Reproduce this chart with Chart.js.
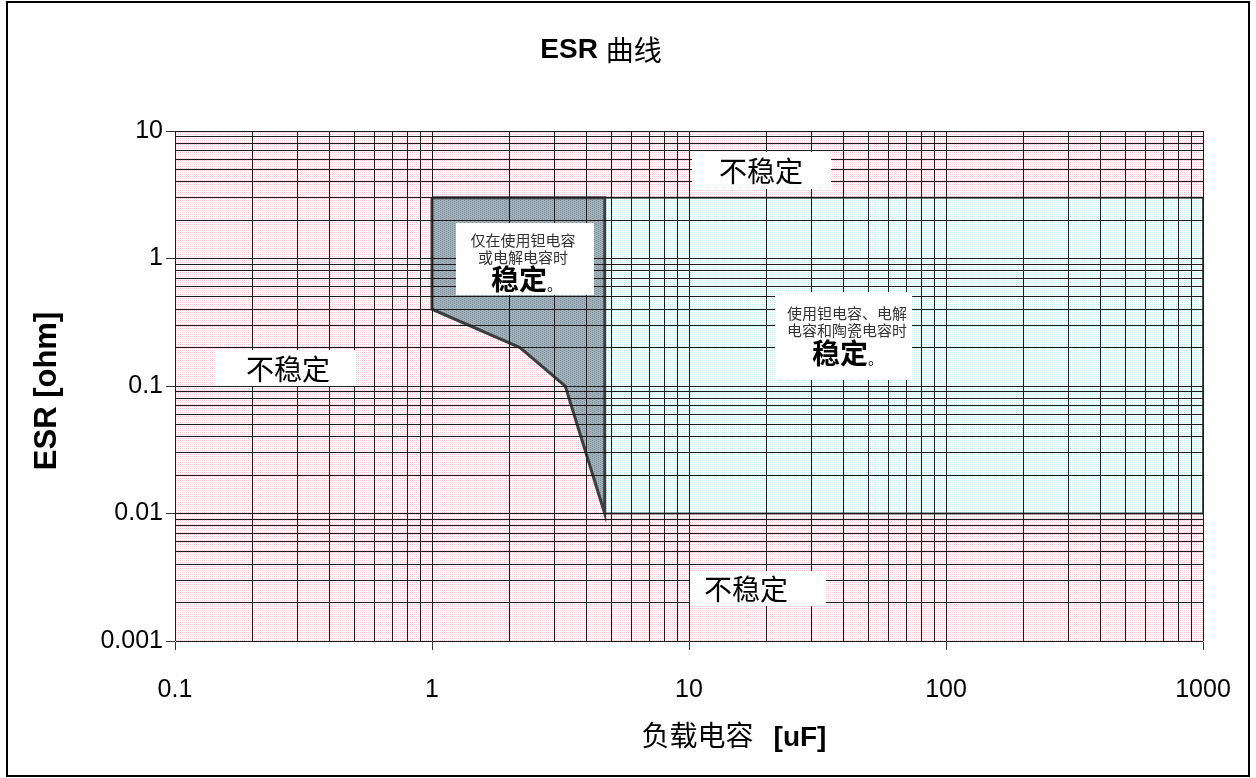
<!DOCTYPE html>
<html>
<head>
<meta charset="utf-8">
<script src="https://cdn.jsdelivr.net/npm/chart.js@4.4.1/dist/chart.umd.min.js"></script>
<style>
  html, body { margin: 0; padding: 0; background: #fff; }
  canvas { display: block; }
</style>
</head>
<body>
<canvas id="esr" width="1256" height="778"></canvas>
<script>
// Axis decades
const xTickLabels = ['0.1', '1', '10', '100', '1000'];
const yTickLabels = ['0.001', '0.01', '0.1', '1', '10'];

// Region stable only with tantalum / electrolytic capacitors (closed outline)
const tantalumCap = [1, 4.7, 4.7, 3.3, 2.2, 1, 1];
const tantalumEsr = [3, 3, 0.01, 0.1, 0.2, 0.4, 3];

// Region stable with tantalum, electrolytic and ceramic capacitors (closed outline)
const allCap = [4.7, 1000, 1000, 4.7, 4.7];
const allEsr = [3, 3, 0.01, 0.01, 3];

// Texts
const titleLatin = 'ESR';
const titleCjk = '曲线';
const xTitleCjk = '负载电容';
const xTitleUnit = '[uF]';
const yTitle = 'ESR [ohm]';
const unstableText = '不稳定';
const tantalumNote = ['仅在使用钽电容', '或电解电容时'];
const allNote = ['使用钽电容、电解', '电容和陶瓷电容时'];
const stableText = '稳定';
const stop = '。';

const LATIN = "'Liberation Sans', Arial, 'Noto Sans CJK SC', sans-serif";
const CJK = "'Noto Sans CJK SC', 'Liberation Sans', sans-serif";

// Log grid: every integer multiple inside each decade
function decadeGrid(labels) {
  const majors = labels.map(Number);
  const out = [];
  for (let i = 0; i < majors.length; i++) {
    out.push({ value: majors[i], major: true });
    if (i < majors.length - 1) {
      for (let m = 2; m <= 9; m++) {
        out.push({ value: Number((m * majors[i]).toPrecision(6)), major: false });
      }
    }
  }
  return out;
}

const ctx = document.getElementById('esr').getContext('2d');

function tilePattern(bg, dot, cells) {
  const t = document.createElement('canvas');
  t.width = 4; t.height = 4;
  const g = t.getContext('2d');
  g.fillStyle = bg; g.fillRect(0, 0, 4, 4);
  g.fillStyle = dot;
  cells.forEach(([x, y]) => g.fillRect(x, y, 1, 1));
  return ctx.createPattern(t, 'repeat');
}
const dotCells = [[0, 0], [2, 0], [0, 2], [2, 2]];
const pinkFill = tilePattern('#ffffff', '#f8cdd3', dotCells);
const cyanFill = tilePattern('#ffffff', '#c9eeee', dotCells);
const slateFill = tilePattern('#a3b2ba', '#7d8d97', [[0, 0], [2, 1], [0, 2], [2, 3]]);

const toPoints = (xs, ys) => xs.map((x, i) => ({ x, y: ys[i] }));

// Text boxes placed in data coordinates; text offsets are in pixels from the box's top-left
const notes = [
  { box: [10.27, 35.7, 6.84, 3.51], lines: [{ text: unstableText, font: '28px ' + CJK, color: '#000', dx: 69, dy: 19 }] },
  { box: [0.1443, 0.506, 0.1916, 0.1], lines: [{ text: unstableText, font: '28px ' + CJK, color: '#000', dx: 72, dy: 19 }] },
  { box: [10.09, 34.1, 0.00354, 0.00188], lines: [{ text: unstableText, font: '28px ' + CJK, color: '#000', dx: 56, dy: 18 }] },
  { box: [1.24, 4.27, 1.898, 0.517], lines: [
      { text: tantalumNote[0], font: '15px ' + CJK, color: '#333', dx: 67, dy: 17 },
      { text: tantalumNote[1], font: '15px ' + CJK, color: '#333', dx: 67, dy: 34 },
      { text: stableText, font: 'bold 28px ' + CJK, color: '#000', dx: 63, dy: 56, tail: stop }
  ] },
  { box: [21.6, 73.8, 0.546, 0.1114], lines: [
      { text: allNote[0], font: '15px ' + CJK, color: '#333', dx: 72, dy: 21 },
      { text: allNote[1], font: '15px ' + CJK, color: '#333', dx: 72, dy: 38 },
      { text: stableText, font: 'bold 28px ' + CJK, color: '#000', dx: 65, dy: 61, tail: stop }
  ] }
];

const decor = {
  id: 'decor',
  beforeDraw(chart) {
    const { ctx: c, chartArea: a } = chart;
    c.save();
    c.fillStyle = '#ffffff';
    c.fillRect(0, 0, chart.width, chart.height);
    c.fillStyle = pinkFill;
    c.fillRect(a.left, a.top, a.right - a.left, a.bottom - a.top);
    c.restore();
  },
  afterDraw(chart) {
    const c = chart.ctx;
    const xs = chart.scales.x, ys = chart.scales.y;
    c.save();
    // annotation boxes
    notes.forEach(n => {
      const x0 = xs.getPixelForValue(n.box[0]), x1 = xs.getPixelForValue(n.box[1]);
      const y0 = ys.getPixelForValue(n.box[2]), y1 = ys.getPixelForValue(n.box[3]);
      c.fillStyle = '#ffffff';
      c.fillRect(x0, y0, x1 - x0, y1 - y0);
      n.lines.forEach(l => {
        c.font = l.font;
        c.fillStyle = l.color;
        c.textAlign = 'center';
        c.textBaseline = 'middle';
        c.fillText(l.text, x0 + l.dx, y0 + l.dy);
        if (l.tail) {
          const w = c.measureText(l.text).width;
          c.font = '15px ' + CJK;
          c.textAlign = 'left';
          c.fillText(l.tail, x0 + l.dx + w / 2, y0 + l.dy + 5);
        }
      });
    });

    // chart title
    c.textBaseline = 'middle';
    c.textAlign = 'left';
    c.fillStyle = '#000';
    c.font = 'bold 28px ' + LATIN;
    const wA = c.measureText(titleLatin + ' ').width;
    c.font = '28px ' + CJK;
    const wB = c.measureText(titleCjk).width;
    const tx = 601 - (wA + wB) / 2;
    c.font = 'bold 28px ' + LATIN;
    c.fillText(titleLatin, tx, 50);
    c.font = '28px ' + CJK;
    c.fillText(titleCjk, tx + wA, 50);

    // x axis title
    c.font = '28px ' + CJK;
    const w1 = c.measureText(xTitleCjk).width;
    c.font = 'bold 28px ' + LATIN;
    const w2 = c.measureText(xTitleUnit).width;
    const gap = 20;
    const sx = 734 - (w1 + gap + w2) / 2;
    c.font = '28px ' + CJK;
    c.fillText(xTitleCjk, sx, 735);
    c.font = 'bold 28px ' + LATIN;
    c.fillText(xTitleUnit, sx + w1 + gap, 738);

    // y axis title
    c.translate(47, 391);
    c.rotate(-Math.PI / 2);
    c.textAlign = 'center';
    c.font = 'bold 31px ' + LATIN;
    c.fillText(yTitle, 0, 0);
    c.restore();

    // outer frame
    c.save();
    c.fillStyle = '#ffffff';
    c.fillRect(0, 0, 6, chart.height);
    c.fillRect(0, 0, chart.width, 1);
    c.strokeStyle = '#000';
    c.lineWidth = 2;
    c.strokeRect(7, 2, 1242, 774);
    c.restore();
  }
};

const gridStyle = {
  z: 1,
  color: '#1c1c1c',
  lineWidth: 1,
  drawTicks: true,
  tickLength: 9,
  tickColor: (c) => (c.tick && c.tick.major ? '#333' : 'rgba(0,0,0,0)')
};

new Chart(ctx, {
  type: 'scatter',
  data: {
    datasets: [
      {
        label: 'tantalum',
        data: toPoints(tantalumCap, tantalumEsr),
        showLine: true,
        fill: 'shape',
        backgroundColor: slateFill,
        borderColor: '#3a3e41',
        borderWidth: 3,
        pointRadius: 0,
        tension: 0
      },
      {
        label: 'all',
        data: toPoints(allCap, allEsr),
        showLine: true,
        fill: 'shape',
        backgroundColor: cyanFill,
        borderColor: '#4a4f52',
        borderWidth: 2,
        pointRadius: 0,
        tension: 0
      }
    ]
  },
  plugins: [decor],
  options: {
    responsive: false,
    animation: false,
    devicePixelRatio: 1,
    layout: { padding: { top: 131, right: 53, bottom: 0, left: 0 } },
    plugins: { legend: { display: false }, tooltip: { enabled: false }, title: { display: false } },
    scales: {
      x: {
        type: 'logarithmic',
        min: 0.1,
        max: 1000,
        afterBuildTicks: (s) => { s.ticks = decadeGrid(xTickLabels); },
        afterFit: (s) => { s.height = 137; },
        grid: gridStyle,
        border: { display: true, color: '#555', width: 1 },
        ticks: {
          autoSkip: false,
          maxRotation: 0,
          padding: 25,
          color: '#000',
          font: { family: LATIN, size: 25 },
          callback: (v) => (xTickLabels.includes(String(v)) ? String(v) : '')
        }
      },
      y: {
        type: 'logarithmic',
        min: 0.001,
        max: 10,
        afterBuildTicks: (s) => { s.ticks = decadeGrid(yTickLabels); },
        afterFit: (s) => { s.width = 175; },
        grid: gridStyle,
        border: { display: true, color: '#333', width: 1 },
        ticks: {
          autoSkip: false,
          padding: 3,
          color: '#000',
          font: { family: LATIN, size: 25 },
          callback: (v) => (yTickLabels.includes(String(v)) ? String(v) : '')
        }
      }
    }
  }
});
</script>
</body>
</html>
